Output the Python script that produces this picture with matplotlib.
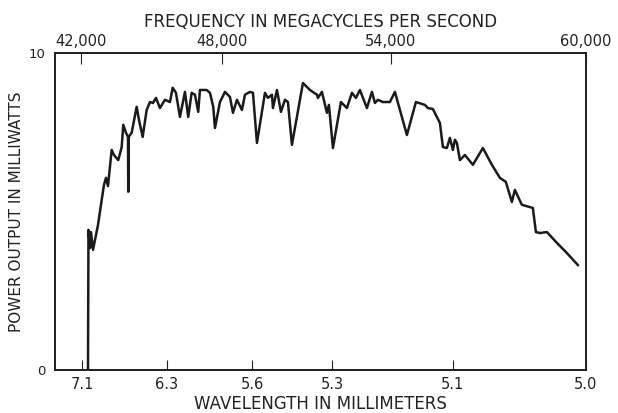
import numpy as np
import matplotlib
matplotlib.use("Agg")
import matplotlib.pyplot as plt

# frequency (Mc/s) and power output (mW)
freq = [42298, 42319, 42383, 42426, 42511, 42596, 42723, 42881, 42979, 43064,
        43149, 43306, 43404, 43587, 43732, 43800, 43915, 44000, 44013, 44026,
        44157, 44370, 44468, 44625, 44795, 44936, 45064, 45191, 45361, 45574,
        45787, 45902, 46042, 46212, 46425, 46565, 46710, 46851, 46991, 47063,
        47348, 47489, 47630, 47702, 47915, 48106, 48284, 48391, 48533, 48710,
        48817, 48994, 49101, 49243, 49527, 49633, 49775, 49811, 49953, 50095,
        50237, 50343, 50485, 50876, 51124, 51373, 51408, 51550, 51728, 51799,
        51941, 52225, 52438, 52615, 52757, 52899, 53148, 53326, 53432, 53539,
        53716, 53965, 54123, 54492, 54769, 55046, 55138, 55292, 55508, 55600,
        55723, 55815, 55908, 55969, 56031, 56123, 56277, 56523, 56831, 57108,
        57354, 57538, 57723, 57815, 58031, 58369, 58462, 58585, 58800, 59108,
        59415, 59754]
power = [0.0, 4.42, 3.85, 4.35, 3.79, 4.10, 4.57, 5.36, 5.84, 6.06,
         5.80, 6.94, 6.78, 6.62, 7.03, 7.73, 7.48, 7.35, 5.62, 7.35,
         7.48, 8.30, 7.89, 7.35, 8.20, 8.45, 8.42, 8.58, 8.26, 8.52,
         8.45, 8.90, 8.74, 7.98, 8.77, 7.98, 8.74, 8.68, 8.14, 8.83,
         8.83, 8.74, 8.30, 7.63, 8.45, 8.77, 8.61, 8.11, 8.52, 8.20,
         8.68, 8.77, 8.74, 7.16, 8.74, 8.58, 8.68, 8.26, 8.83, 8.14,
         8.52, 8.45, 7.10, 9.05, 8.83, 8.68, 8.58, 8.77, 8.11, 8.36,
         7.00, 8.45, 8.26, 8.74, 8.58, 8.83, 8.26, 8.77, 8.42, 8.52,
         8.45, 8.45, 8.77, 7.41, 8.45, 8.36, 8.26, 8.23, 7.79, 7.03,
         7.00, 7.32, 6.94, 7.26, 7.16, 6.62, 6.78, 6.47, 7.00, 6.47,
         6.06, 5.93, 5.30, 5.68, 5.21, 5.11, 4.35, 4.32, 4.35, 4.01,
         3.69, 3.31]

freq_ticks = [42000, 48000, 54000, 60000]
freq_labels = ["42,000", "48,000", "54,000", "60,000"]
wave_labels = ["7.1", "6.3", "5.6", "5.3", "5.1", "5.0"]
wave_at_freq = [42043, 45659, 49065, 51905, 55908, 60000]

# the printed scale is not linear in frequency -> piecewise mapping
scale_f = [40000, 42000, 48000, 54000, 60000, 62000]
scale_p = [34, 81, 222, 391, 586, 651]

def fwd(f):
    return np.interp(f, scale_f, scale_p)

def inv(p):
    return np.interp(p, scale_p, scale_f)

ink = "#222222"

fig = plt.figure(figsize=(6.18, 4.13), dpi=100)
ax = fig.add_axes([0.089, 0.104, 0.859, 0.768])
ax.set_xscale("function", functions=(fwd, inv))
ax.plot(freq, power, color="#1a1a1a", lw=1.8, solid_joinstyle="round")
ax.set_xlim(40894, 60000)
ax.set_ylim(0, 10)

ax.set_xticks(wave_at_freq)
ax.set_xticklabels(wave_labels)
ax.set_yticks([0, 10])
ax.set_yticklabels(["0", "10"])
ax.tick_params(axis="x", direction="in", length=7.5, width=0.8, pad=5,
               labelsize=10.5, colors=ink)
ax.tick_params(axis="y", length=0, pad=7, labelsize=9.5, colors=ink)
ax.set_xlabel("WAVELENGTH IN MILLIMETERS", fontsize=12, color=ink, labelpad=2)
ax.set_ylabel("POWER OUTPUT IN MILLIWATTS", fontsize=11, color=ink, labelpad=3)
ax.xaxis.set_minor_locator(matplotlib.ticker.NullLocator())

ax2 = ax.twiny()
ax2.set_xscale("function", functions=(fwd, inv))
ax2.set_xlim(ax.get_xlim())
ax2.set_xticks(freq_ticks)
ax2.set_xticklabels(freq_labels)
ax2.xaxis.set_minor_locator(matplotlib.ticker.NullLocator())
ax2.tick_params(axis="x", direction="in", length=8, width=0.8, pad=3,
                labelsize=10.5, colors=ink)
ax2.set_xlabel("FREQUENCY IN MEGACYCLES PER SECOND", fontsize=12,
               color=ink, labelpad=5)

for a in (ax, ax2):
    for s in a.spines.values():
        s.set_linewidth(1.3)
        s.set_color(ink)

fig.savefig("out.png", dpi=100)
